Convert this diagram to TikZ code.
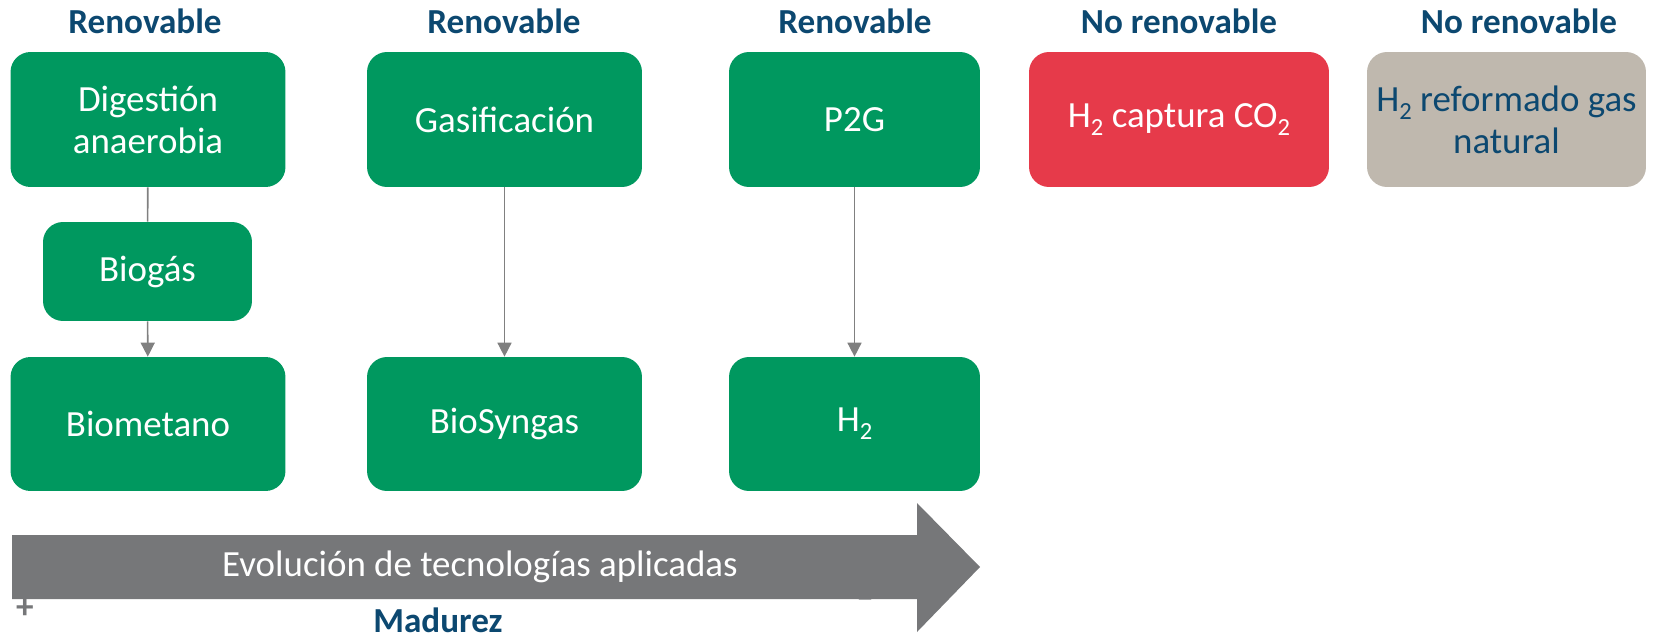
\documentclass[tikz,border=0pt]{standalone}
\usepackage{fontspec}
\setmainfont{Carlito}
\usetikzlibrary{arrows.meta}

\definecolor{boxgreen}{RGB}{0,152,95}
\definecolor{boxred}{RGB}{230,58,74}
\definecolor{boxgrey}{RGB}{191,184,174}
\definecolor{darkblue}{RGB}{12,72,112}
\definecolor{arrowgrey}{RGB}{118,119,121}
\definecolor{linegrey}{RGB}{128,128,128}

\newcommand{\sub}[1]{\raisebox{-0.45ex}{\fontsize{14}{14}\selectfont #1}}

\tikzset{
  tech/.style={rounded corners=0.4cm, inner sep=0pt, align=center,
    font=\fontsize{21}{24}\selectfont, text=white, fill=boxgreen},
  head/.style={font=\fontsize{20}{24}\selectfont\bfseries, text=darkblue},
  conn/.style={draw=linegrey, line width=0.9pt},
  connarrow/.style={conn, -{Triangle[width=8pt,length=8pt]}}
}

\begin{document}
\begin{tikzpicture}[x=0.02cm, y=-0.02cm]
      \useasboundingbox (0,0) rectangle (1674,639);

      % headers
      \node[head] (h1) at (145,21) {Renovable};
      \node[head] (h2) at (504,21) {Renovable};
      \node[head] (h3) at (855,21) {Renovable};
      \node[head] (h4) at (1179,21) {No renovable};
      \node[head] (h5) at (1519,21) {No renovable};

      % technology boxes
      \node[tech, minimum width=5.5cm, minimum height=2.7cm] (dig) at (148,119.5) {Digestión\\anaerobia};
      \node[tech, minimum width=4.18cm, minimum height=1.98cm] (biogas) at (147.5,271.5) {Biogás};
      \node[tech, minimum width=5.5cm, minimum height=2.68cm] (biomet) at (148,424) {Biometano};

      \node[tech, minimum width=5.5cm, minimum height=2.7cm] (gasif) at (504.5,119.5) {Gasificación};
      \node[tech, minimum width=5.5cm, minimum height=2.68cm] (biosyn) at (504.5,424) {BioSyngas};

      \node[tech, minimum width=5.02cm, minimum height=2.7cm] (p2g) at (854.5,119.5) {P2G};
      \node[tech, minimum width=5.02cm, minimum height=2.68cm] (hyd) at (854.5,424) {H\sub{2}};

      \node[tech, fill=boxred, minimum width=6cm, minimum height=2.7cm] (capt) at (1179,119.5) {H\sub{2} captura CO\sub{2}};
      \node[tech, fill=boxgrey, text=darkblue, minimum width=5.58cm, minimum height=2.7cm] (reform) at (1506.5,119.5) {H\sub{2} reformado gas\\natural};

      % connectors
      \draw[conn] (dig) -- (biogas);
      \draw[connarrow] (biogas) -- (biomet);
      \draw[connarrow] (gasif) -- (biosyn);
      \draw[connarrow] (p2g) -- (hyd);

      % maturity arrow
      \node[text=arrowgrey, font=\fontsize{20}{24}\selectfont\bfseries] (minus) at (865,603) {--};
      \fill[arrowgrey] (12,535) -- (917,535) -- (917,503) -- (980,567) -- (917,632)
        -- (917,599) -- (12,599) -- cycle;
      \node[text=white, font=\fontsize{21}{24}\selectfont] (evol) at (480,567) {Evolución de tecnologías aplicadas};
      \node[text=arrowgrey, font=\fontsize{20}{24}\selectfont\bfseries] (plus) at (25,609) {+};
      \node[head, inner sep=0pt] (mad) at (438,620) {Madurez};
    \end{tikzpicture}
\end{document}
